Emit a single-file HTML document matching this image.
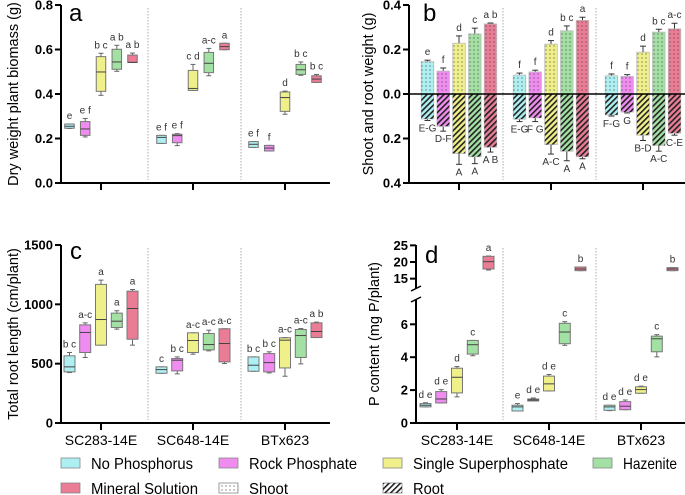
<!DOCTYPE html>
<html><head><meta charset="utf-8">
<style>
body{margin:0;background:#fff;}
svg{display:block;font-family:"Liberation Sans",sans-serif;}
.tk{font-weight:bold;font-size:13px;fill:#000;}
.lt{font-size:10px;fill:#333;}
</style></head>
<body>
<svg id="fig" width="685" height="495" viewBox="0 0 685 495" xmlns="http://www.w3.org/2000/svg">
<defs>
<pattern id="dots" width="4" height="4" patternUnits="userSpaceOnUse"><circle cx="2" cy="2" r="0.6" fill="#444"/></pattern>
<pattern id="hatch" width="4" height="4" patternUnits="userSpaceOnUse" patternTransform="rotate(45)"><rect width="1.6" height="4" fill="#222"/></pattern>
</defs>
</svg>
<script>
const groups=['SC283-14E','SC648-14E','BTx623'];
const treatments=['No Phosphorus','Rock Phosphate','Single Superphosphate','Hazenite','Mineral Solution'];
const colors=['#aef0f2','#f08cf0','#f0f08a','#a3e0a3','#ea7c96'];
// panel a: dry weight
const aLow=[[0.245,0.207,0.394,0.502,0.542],[0.178,0.168,0.416,0.482,0.599],[0.160,0.144,0.309,0.484,0.452]];
const aQ1=[[0.246,0.214,0.412,0.511,0.542],[0.178,0.181,0.416,0.496,0.599],[0.160,0.144,0.322,0.488,0.452]];
const aMed=[[0.255,0.243,0.499,0.544,0.542],[0.205,0.213,0.425,0.538,0.613],[0.174,0.157,0.384,0.509,0.467]];
const aQ3=[[0.265,0.276,0.568,0.601,0.575],[0.214,0.219,0.506,0.587,0.628],[0.186,0.169,0.409,0.533,0.482]];
const aHigh=[[0.265,0.290,0.583,0.619,0.584],[0.214,0.222,0.533,0.605,0.628],[0.186,0.169,0.413,0.544,0.488]];
const aLetters=[['e','e f','b c','a b','a b'],['e f','e f','c d','a-c','a'],['e f','f','d','b c','b c']];
const aTicks=['0.0','0.2','0.4','0.6','0.8'];
// panel b: shoot / root
const bShoot=[[0.145,0.103,0.228,0.270,0.315],[0.085,0.099,0.224,0.284,0.331],[0.082,0.079,0.188,0.278,0.293]];
const bShootErr=[[0.152,0.117,0.261,0.296,0.319],[0.094,0.107,0.240,0.306,0.345],[0.090,0.087,0.215,0.291,0.318]];
const bRoot=[[0.112,0.145,0.267,0.282,0.239],[0.113,0.107,0.227,0.257,0.282],[0.094,0.081,0.185,0.231,0.176]];
const bRootErr=[[0.119,0.167,0.316,0.313,0.261],[0.124,0.124,0.270,0.300,0.291],[0.099,0.085,0.209,0.257,0.185]];
const bShootLetters=[['e','f','d','c','a b'],['f','f','d','b c','a'],['f','f','d','b c','a-c']];
const bRootLetters=[['E-G','D-F','A','A','A B'],['E-G','F G','A-C','A','A'],['F-G','G','B-D','A-C','C-E']];
const bTicks=['0.4','0.2','0.0','0.2','0.4'];
// panel c: root length
const cLow=[[425,552,656,791,656],[419,414,580,608,501],[436,422,394,498,720]];
const cQ1=[[431,594,656,805,706],[419,439,594,616,515],[436,431,464,552,720]];
const cMed=[[473,763,872,858,965],[450,529,695,661,670],[487,509,698,737,771]];
const cQ3=[[566,827,1168,926,1111],[473,543,760,754,794],[557,585,718,788,844]];
const cHigh=[[594,844,1204,946,1125],[473,557,760,782,794],[557,600,720,796,850]];
const cLetters=[['b c','a-c','a','a','a'],['c','b c','a-c','a-c','a-c'],['b c','b c','a-c','a-c','a b']];
const cTicks=['0','500','1000','1500'];
// panel d: P content
const dLow=[[0.98,1.22,1.59,4.09,17.6],[0.73,1.34,1.95,4.72,17.4],[0.75,0.81,1.81,4.02,17.4]];
const dQ1=[[0.98,1.22,1.83,4.19,17.9],[0.73,1.34,1.95,4.82,17.4],[0.77,0.81,1.81,4.33,17.4]];
const dMed=[[1.08,1.46,2.78,4.76,20.1],[0.98,1.40,2.38,5.53,17.9],[0.98,1.02,2.03,5.12,17.9]];
const dQ3=[[1.18,1.91,3.33,5.02,21.7],[1.08,1.46,2.85,6.06,18.5],[1.08,1.30,2.20,5.28,18.3]];
const dHigh=[[1.23,2.03,3.43,5.02,21.8],[1.18,1.52,2.95,6.16,18.5],[1.08,1.40,2.24,5.37,18.3]];
const dLetters=[['d e','d e','d','c','a'],['e','d e','d e','c','b'],['d e','d e','d e','c','b']];
const dTicksLow=['0','2','4','6'];
const dTicksHigh=['15','20','25'];

const NS='http://www.w3.org/2000/svg';
const svg=document.getElementById('fig');
function mk(tag,attrs,parent){const e=document.createElementNS(NS,tag);for(const k in attrs)e.setAttribute(k,attrs[k]);(parent||svg).appendChild(e);return e;}
function txt(s,x,y,cls,anchor,parent){const t=mk('text',{x:x,y:y,class:cls,'text-anchor':anchor||'middle'},parent);t.textContent=s;return t;}
const offs=[-31.5,-15.8,0,15.8,31.5];

function frame(p){
  const g=mk('g',{});
  
  
  p.dividers.forEach((dx,i)=>{const l=mk('line',{x1:dx,x2:dx,y1:p.yTop+3,y2:p.yBot-3,stroke:'#999','stroke-width':0.8,'stroke-dasharray':'1.5,1.5'},g);
    
    });
  const ya=mk('line',{x1:p.x0,x2:p.x0,y1:p.yTop,y2:p.yBot+1,stroke:'#000','stroke-width':2},g);
  
  
  const xa=mk('line',{x1:p.x0-1,x2:p.x1,y1:p.yBot,y2:p.yBot,stroke:'#000','stroke-width':2},g);
  
  
  p.ticks.forEach(t=>{mk('line',{x1:p.x0-6,x2:p.x0,y1:t[1],y2:t[1],stroke:'#000','stroke-width':2},g);
    const tl=txt(t[0],p.x0-8,t[1]+4.5,'tk','end',g);
    
    });
  p.groupX.forEach((gx,i)=>{mk('line',{x1:gx,x2:gx,y1:p.yBot,y2:p.yBot+7,stroke:'#000','stroke-width':2},g);
    if(p.xlabels){const xl=txt(groups[i],gx,445,'','middle',g);xl.setAttribute('font-size','14');
      
      }});
  const cy=(p.yTop+p.yBot)/2;
  const tt=txt(p.title,p.titleX,cy,'','middle',g);
  tt.setAttribute('font-size','14.5');tt.setAttribute('transform','rotate(-90 '+p.titleX+' '+cy+')');
  
  
  const pl=txt(p.letter,p.lx,p.ly,'','start',g);pl.setAttribute('font-size','24');
  
  
  return g;
}

function boxes(g,groupX,scale,w,lo,q1,md,q3,hi,letters){
  groupX.forEach((gx,gi)=>{for(let ti=0;ti<5;ti++){
    const cx=gx+offs[ti];
    const yl=scale(lo[gi][ti]),yq1=scale(q1[gi][ti]),ym=scale(md[gi][ti]),yq3=scale(q3[gi][ti]),yh=scale(hi[gi][ti]);
    const bg=mk('g',{},g);
    
    
    mk('line',{x1:cx,x2:cx,y1:yh,y2:yl,stroke:'#666','stroke-width':1},bg);
    mk('line',{x1:cx-2.5,x2:cx+2.5,y1:yh,y2:yh,stroke:'#666','stroke-width':1},bg);
    mk('line',{x1:cx-2.5,x2:cx+2.5,y1:yl,y2:yl,stroke:'#666','stroke-width':1},bg);
    mk('rect',{x:cx-w/2,y:yq3,width:w,height:Math.max(yq1-yq3,1),fill:colors[ti],stroke:'#777','stroke-width':1},bg);
    mk('line',{x1:cx-w/2,x2:cx+w/2,y1:ym,y2:ym,stroke:'#444','stroke-width':1},bg);
    const lt=txt(letters[gi][ti],cx,yh-5,'lt','middle',bg);
    
    
  }});
}

// Panel a
const gxA=[101,193,285];
const ya=v=>183-v*222.5;
const gA=frame({name:'a',x0:61,x1:330,yTop:5,yBot:183,ticks:aTicks.map(s=>[s,ya(parseFloat(s))]),groupX:gxA,dividers:[148,241],title:'Dry weight plant biomass (g)',titleX:18,letter:'a',lx:69,ly:21,xlabels:false});
boxes(gA,gxA,ya,9.5,aLow,aQ1,aMed,aQ3,aHigh,aLetters);

// Panel c
const yc=v=>423-v*(178/1500);
const gC=frame({name:'c',x0:61,x1:330,yTop:245,yBot:423,ticks:cTicks.map(s=>[s,yc(parseFloat(s))]),groupX:gxA,dividers:[148,241],title:'Total root length (cm/plant)',titleX:18,letter:'c',lx:70,ly:259,xlabels:true});
boxes(gC,gxA,yc,11,cLow,cQ1,cMed,cQ3,cHigh,cLetters);

// Panel b
const gxB=[459,551,643];
const yb0=94,bk=222.5;
const gB=frame({name:'b',x0:409,x1:685,yTop:5,yBot:183,ticks:bTicks.map((s,i)=>[s,5+i*44.5]),groupX:gxB,dividers:[503,596],title:'Shoot and root weight (g)',titleX:373,letter:'b',lx:423,ly:21,xlabels:false});
gxB.forEach((gx,gi)=>{for(let ti=0;ti<5;ti++){
  const cx=gx+offs[ti],w=12.5;
  const ys=yb0-bShoot[gi][ti]*bk, yse=yb0-bShootErr[gi][ti]*bk;
  const yr=yb0+bRoot[gi][ti]*bk, yre=yb0+bRootErr[gi][ti]*bk;
  const sg=mk('g',{},gB);
  
  
  mk('line',{x1:cx,x2:cx,y1:ys,y2:yse,stroke:'#333','stroke-width':1},sg);
  mk('line',{x1:cx-3,x2:cx+3,y1:yse,y2:yse,stroke:'#333','stroke-width':1},sg);
  mk('rect',{x:cx-w/2,y:ys,width:w,height:yb0-ys,fill:colors[ti],stroke:'#bbb','stroke-width':0.8},sg);
  mk('rect',{x:cx-w/2,y:ys,width:w,height:yb0-ys,fill:'url(#dots)'},sg);
  const sl=txt(bShootLetters[gi][ti],cx,yse-5,'lt','middle',sg);
  
  
  const rg=mk('g',{},gB);
  
  
  mk('line',{x1:cx,x2:cx,y1:yr,y2:yre,stroke:'#333','stroke-width':1},rg);
  mk('line',{x1:cx-3,x2:cx+3,y1:yre,y2:yre,stroke:'#333','stroke-width':1},rg);
  mk('rect',{x:cx-w/2,y:yb0,width:w,height:yr-yb0,fill:colors[ti],stroke:'#bbb','stroke-width':0.8},rg);
  mk('rect',{x:cx-w/2,y:yb0,width:w,height:yr-yb0,fill:'url(#hatch)'},rg);
  const rl=txt(bRootLetters[gi][ti],cx,yre+11,'lt','middle',rg);
  
  
}});
const zl=mk('line',{x1:409,x2:685,y1:yb0,y2:yb0,stroke:'#000','stroke-width':1.5},gB);



// Panel d (broken axis)
const gxD=[457,549,641];
const yd=v=>v<=10?423-v*16.45:262-(v-20)*3.33;
const gD=frame({name:'d',x0:416,x1:685,yTop:245,yBot:423,ticks:dTicksLow.concat(dTicksHigh).map(s=>[s,yd(parseFloat(s))]),groupX:gxD,dividers:[503,596],title:'P content (mg P/plant)',titleX:379,letter:'d',lx:425,ly:263,xlabels:true});
const brk=mk('rect',{x:410,y:288,width:12,height:12,fill:'#fff'},gD);


mk('line',{x1:411,x2:421,y1:291,y2:286,stroke:'#000','stroke-width':1.5},gD);
mk('line',{x1:411,x2:421,y1:302,y2:297,stroke:'#000','stroke-width':1.5},gD);
boxes(gD,gxD,yd,11,dLow,dQ1,dMed,dQ3,dHigh,dLetters);

// Legend
const legend=mk('g',{});


const legItems=[['No Phosphorus',61,463,colors[0],null,102],['Rock Phosphate',219,463,colors[1],null,108],['Single Superphosphate',383,463,colors[2],null,155],['Hazenite',593,463,colors[3],null,54],['Mineral Solution',61,488,colors[4],null,107],['Shoot',219,488,'#fff','url(#dots)',39],['Root',383,488,'#fff','url(#hatch)',31]];
legItems.forEach(it=>{
  const lg=mk('g',{},legend);
  
  
  mk('rect',{x:it[1],y:it[2]-5,width:19,height:10,fill:it[3],stroke:'#888','stroke-width':0.8},lg);
  if(it[4])mk('rect',{x:it[1],y:it[2]-5,width:19,height:10,fill:it[4]},lg);
  const t=txt(it[0],it[1]+30,it[2]+6,'','start',lg);t.setAttribute('font-size','16');
  t.setAttribute('textLength',it[5]);t.setAttribute('lengthAdjust','spacingAndGlyphs');
});
</script>
</body></html>
